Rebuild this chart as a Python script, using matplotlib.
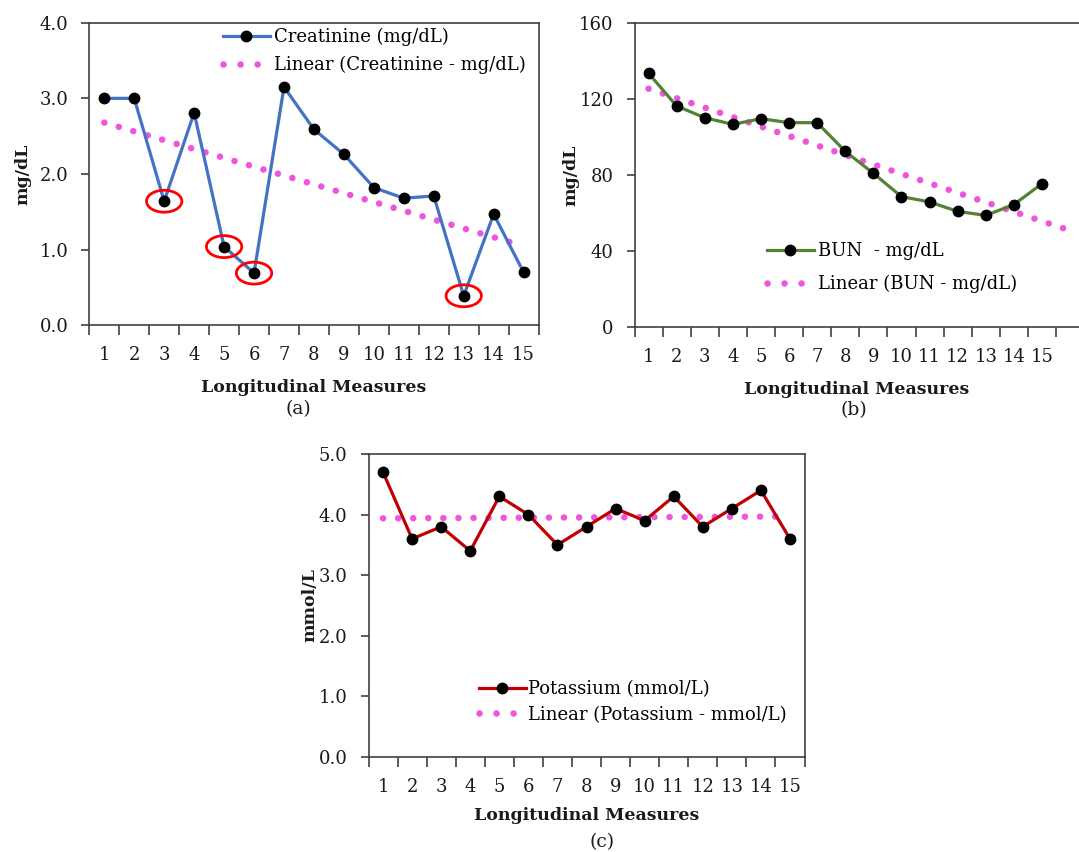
import numpy as np
import matplotlib
matplotlib.use("Agg")
import matplotlib.pyplot as plt
from matplotlib.patches import Ellipse
from matplotlib.lines import Line2D

# ---------------- data ----------------
measures = list(range(1, 16))
tick_labels = [str(m) for m in measures]

creatinine = [3.0, 3.0, 1.64, 2.81, 1.04, 0.69, 3.15, 2.59, 2.26, 1.82, 1.68, 1.71, 0.39, 1.47, 0.70]
bun = [133.6, 116.4, 110.2, 106.7, 109.7, 107.6, 107.6, 92.5, 80.9, 68.6, 65.8, 60.8, 58.7, 64.4, 75.4]
potassium = [4.7, 3.6, 3.8, 3.4, 4.3, 4.0, 3.5, 3.8, 4.1, 3.9, 4.3, 3.8, 4.1, 4.4, 3.6]
circled_points = [3, 5, 6, 13]

# ---------------- style ----------------
W, H = 1079, 852
DPI = 100
FONT = ["DejaVu Serif"]
plt.rcParams["font.family"] = FONT
TXT = "#1a1a1a"
SPINE = "#404040"
PINK = "#EE55DD"
TICK_FS = 13
LEG_FS = 13
LAB_FS = 12.5
TREND_LW = 4.7

fig = plt.figure(figsize=(W / DPI, H / DPI), dpi=DPI)


def px_axes(left, right, top, bottom):
    return fig.add_axes([left / W, 1 - bottom / H, (right - left) / W, (bottom - top) / H])


def trend(ax, x, y, color, x_end=None):
    coef = np.polyfit(x, y, 1)
    xe = x[-1] if x_end is None else x_end
    xs = np.array([x[0], xe])
    ln, = ax.plot(xs, np.polyval(coef, xs), color=color, lw=TREND_LW,
                  dash_capstyle="round", solid_capstyle="round", zorder=2)
    ln.set_dashes((0.01, 2.3))
    proxy = Line2D([], [], color=color, lw=TREND_LW, dash_capstyle="round")
    proxy.set_dashes((0.01, 2.6))
    return proxy


def style_axes(ax, n_slots, xmax, yticks, yfmt, ylabel, right_spine=True, labelpad=11):
    ax.set_xlim(0.5, xmax)
    ax.set_xticks(np.arange(0.5, n_slots + 0.51, 1.0))
    ax.set_xticklabels([])
    ax.set_xticks(measures, minor=True)
    ax.set_xticklabels(tick_labels, minor=True)
    ax.tick_params(axis="x", which="major", direction="out", length=7, width=1.2, color=SPINE)
    ax.tick_params(axis="x", which="minor", length=0, pad=15, labelsize=TICK_FS, labelcolor=TXT)
    ax.set_yticks(yticks)
    ax.set_yticklabels([yfmt.format(v) for v in yticks])
    ax.set_ylim(yticks[0], yticks[-1])
    ax.tick_params(axis="y", direction="out", length=6, width=1.2, color=SPINE,
                   pad=9, labelsize=TICK_FS, labelcolor=TXT)
    for s in ax.spines.values():
        s.set_color(SPINE)
        s.set_linewidth(1.2)
    if not right_spine:
        ax.spines["right"].set_visible(False)
    ax.set_xlabel("Longitudinal Measures", fontsize=LAB_FS, fontweight="bold", color=TXT,
                  labelpad=labelpad)
    ax.set_ylabel(ylabel, fontsize=LAB_FS, fontweight="bold", color=TXT)


def add_legend(ax, handles, labels, left_px, top_px, spacing, textpad=0.2):
    ax.legend(handles, labels, loc="upper left",
              bbox_to_anchor=(left_px / W, 1 - top_px / H), bbox_transform=fig.transFigure,
              frameon=False, fontsize=LEG_FS, handlelength=2.6, handletextpad=textpad,
              borderpad=0, borderaxespad=0, labelspacing=spacing, markerscale=1.0)


x = np.array(measures, dtype=float)

# ---------------- (a) Creatinine ----------------
axa = px_axes(89.3, 538.6, 22.7, 325.3)
la, = axa.plot(x, creatinine, color="#4472C4", lw=2.3, marker="o", ms=7.5,
               mfc="black", mec="black", zorder=3)
ta = trend(axa, x, creatinine, PINK)
for p in circled_points:
    axa.add_patch(Ellipse((p, creatinine[p - 1]), width=1.18, height=0.29,
                          fill=False, ec="#FF0000", lw=2.0, zorder=4))
style_axes(axa, 15, 15.5, [0.0, 1.0, 2.0, 3.0, 4.0], "{:.1f}", "mg/dL")
axa.yaxis.set_label_coords(-0.13, 0.5)
add_legend(axa, [la, ta], ["Creatinine (mg/dL)", "Linear (Creatinine - mg/dL)"], 223, 28, 0.55)
fig.text(298 / W, 1 - 409 / H, "(a)", ha="center", va="center", fontsize=13.5, color=TXT)

# ---------------- (b) BUN ----------------
slot_b = 28.1
axb = px_axes(634.5, 1079, 23.3, 326.7)
lb, = axb.plot(x, bun, color="#548235", lw=2.3, marker="o", ms=7.5,
               mfc="black", mec="black", zorder=3)
tb = trend(axb, x, bun, PINK, x_end=16)
style_axes(axb, 15, 0.5 + (1079 - 634.5) / slot_b, [0, 40, 80, 120, 160], "{:d}", "mg/dL",
           right_spine=False)
axb.yaxis.set_label_coords(-0.125, 0.5)
add_legend(axb, [lb, tb], ["BUN  - mg/dL", "Linear (BUN - mg/dL)"], 767, 242, 0.82)
fig.text(854 / W, 1 - 410 / H, "(b)", ha="center", va="center", fontsize=13.5, color=TXT)

# ---------------- (c) Potassium ----------------
axc = px_axes(368.5, 804.5, 454, 757)
lc, = axc.plot(x, potassium, color="#C00000", lw=2.3, marker="o", ms=7.5,
               mfc="black", mec="black", zorder=3)
tc = trend(axc, x, potassium, PINK)
style_axes(axc, 15, 15.5, [0.0, 1.0, 2.0, 3.0, 4.0, 5.0], "{:.1f}", "mmol/L", labelpad=8)
axc.yaxis.set_label_coords(-0.114, 0.5)
add_legend(axc, [lc, tc], ["Potassium (mmol/L)", "Linear (Potassium - mmol/L)"], 479, 680, 0.42,
           textpad=0.1)
fig.text(602 / W, 1 - 842 / H, "(c)", ha="center", va="center", fontsize=13.5, color=TXT)

fig.savefig("out.png", dpi=DPI, facecolor="white")
